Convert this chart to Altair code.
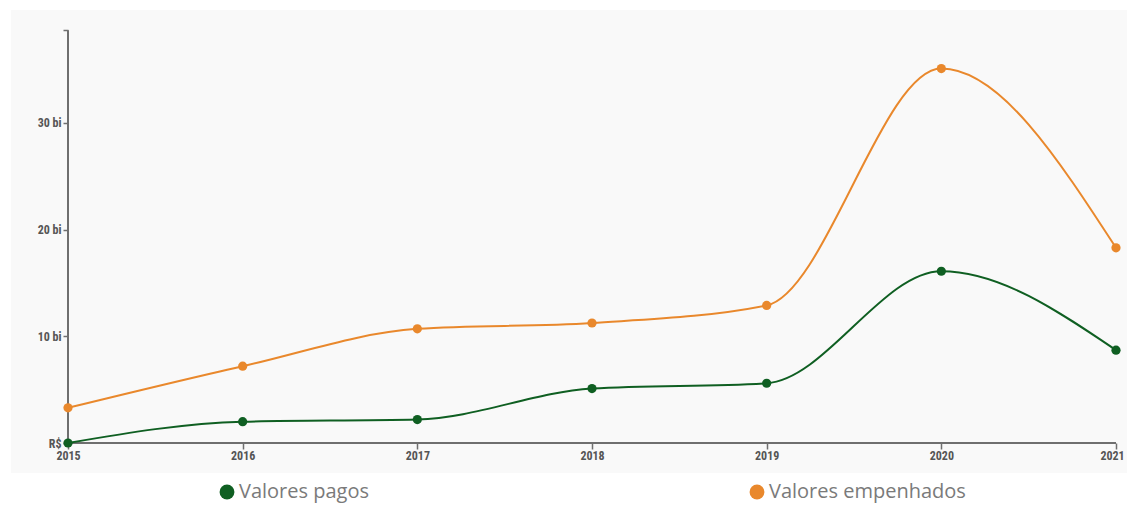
import altair as alt
import pandas as pd

years = [2015, 2016, 2017, 2018, 2019, 2020, 2021]
pagos = [0.0, 2.0, 2.2, 5.1, 5.6, 16.1, 8.7]
empenhados = [3.3, 7.2, 10.7, 11.25, 12.9, 35.1, 18.3]
series_names = ["Valores pagos", "Valores empenhados"]
series_colors = ["#0f5f22", "#e9882c"]
y_ticks = [0, 10, 20, 30]
y_top = 38.7

rows = []
for y, p, e in zip(years, pagos, empenhados):
    rows.append({"ano": y, "valor": p, "serie": series_names[0]})
    rows.append({"ano": y, "valor": e, "serie": series_names[1]})
df = pd.DataFrame(rows)

# layout (plot area = grey panel)
W, H = 1116, 463
x0_px, x1_px = 57, 1105      # pixel positions of 2015 and 2021 in the panel
y0_px = 433                  # pixel position of value 0 from panel top
px_per_bi = 10.667
px_per_year = (x1_px - x0_px) / (years[-1] - years[0])
x_dom = [years[0] - x0_px / px_per_year, years[-1] + (W - x1_px) / px_per_year]
y_dom = [-(H - y0_px) / px_per_bi, y0_px / px_per_bi]

font_axis = "Roboto Condensed, Liberation Sans Narrow, DejaVu Sans Condensed, sans-serif"
axis_color = "#6f6f6f"

x_scale = alt.Scale(domain=x_dom, nice=False, zero=False)
y_scale = alt.Scale(domain=y_dom, nice=False, zero=False)

color = alt.Color(
    "serie:N",
    scale=alt.Scale(domain=series_names, range=series_colors),
    sort=series_names,
    legend=alt.Legend(
        title=None,
        orient="none",
        direction="horizontal",
        legendX=206,
        legendY=472,
        symbolType="circle",
        symbolSize=220,
        symbolStrokeWidth=0,
        labelFont="Open Sans",
        labelFontSize=20,
        labelColor="#7a7a7a",
        labelOffset=2,
        columnPadding=377,
        labelLimit=400,
    ),
)

base = alt.Chart(df)

lines = base.mark_line(interpolate="monotone", strokeWidth=2).encode(
    x=alt.X(
        "ano:Q",
        scale=x_scale,
        axis=alt.Axis(
            values=years,
            format="d",
            domain=False,
            grid=False,
            offset=-30,
            tickColor=axis_color,
            tickSize=6,
            tickWidth=1.5,
            labelFont=font_axis,
            labelFontWeight="bold",
            labelFontSize=12,
            labelColor="#555555",
            labelPadding=1,
            labelOffset={"condition": {"test": "datum.value == 2021", "value": -4}, "value": 0},
            labelFlush=False,
            labelOverlap=False,
            title=None,
        ),
    ),
    y=alt.Y(
        "valor:Q",
        scale=y_scale,
        axis=alt.Axis(
            values=y_ticks + [y_top],
            labelExpr="datum.value == 0 ? 'R$' : (datum.value > 35 ? '' : datum.value + ' bi')",
            domain=False,
            grid=False,
            offset=-57,
            tickColor=axis_color,
            tickSize=5,
            tickWidth=1.5,
            labelFont=font_axis,
            labelFontWeight="bold",
            labelFontSize=12,
            labelColor="#555555",
            labelPadding=2,
            labelFlush=False,
            labelOverlap=False,
            title=None,
        ),
    ),
    color=color,
)

points = base.mark_point(filled=True, size=85, opacity=1).encode(
    x=alt.X("ano:Q", scale=x_scale),
    y=alt.Y("valor:Q", scale=y_scale),
    color=alt.Color("serie:N", scale=alt.Scale(domain=series_names, range=series_colors), legend=None),
)

xaxis_df = pd.DataFrame({"a": [years[0]], "a2": [years[-1]], "v": [0.0]})
xaxis_line = alt.Chart(xaxis_df).mark_rule(color=axis_color, strokeWidth=2).encode(
    x=alt.X("a:Q", scale=x_scale), x2="a2:Q", y=alt.Y("v:Q", scale=y_scale)
)
yaxis_df = pd.DataFrame({"a": [years[0]], "v": [0.0], "v2": [y_top]})
yaxis_line = alt.Chart(yaxis_df).mark_rule(color=axis_color, strokeWidth=2).encode(
    x=alt.X("a:Q", scale=x_scale), y=alt.Y("v:Q", scale=y_scale), y2="v2:Q"
)

chart = (
    alt.layer(xaxis_line, yaxis_line, lines, points)
    .properties(
        width=W,
        height=H,
        autosize=alt.AutoSizeParams(type="none"),
        padding={"left": 3, "top": 2, "right": 0, "bottom": 32},
        background="#ffffff",
    )
    .configure_view(fill="#f9f9f9", stroke=None)
)

chart.save("out.html", embed_options={"renderer": "svg", "actions": False})
